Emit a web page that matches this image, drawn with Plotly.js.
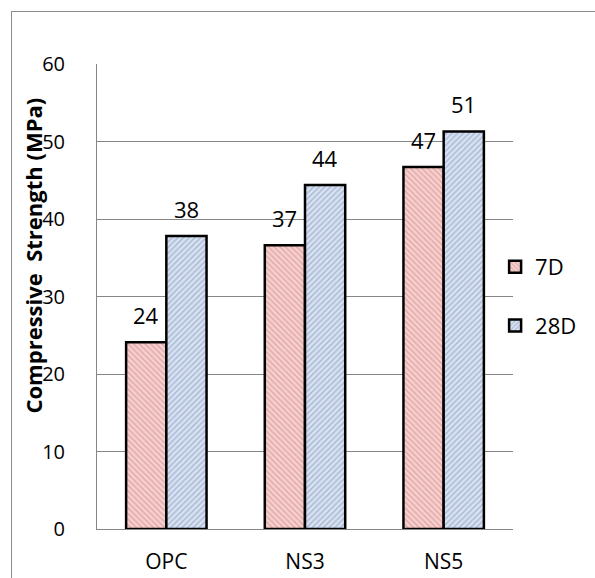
<!DOCTYPE html>
<html><head><meta charset="utf-8">
<script src="https://cdn.plot.ly/plotly-3.0.1.min.js"></script>
<style>
body{margin:0;padding:0;background:#fff;}
#wrap{position:relative;width:595px;height:578px;}
#frame{position:absolute;left:11px;top:11px;width:600px;height:600px;border-left:1px solid #8c8c8c;border-top:1px solid #8c8c8c;pointer-events:none;}
#chart{position:absolute;left:0;top:0;width:595px;height:578px;}
</style>
</head><body>
<div id="wrap"><div id="chart"></div><div id="frame"></div></div>
<script>
const categories = ["OPC", "NS3", "NS5"];
const series7D = [24.1, 36.6, 46.7];
const series28D = [37.8, 44.4, 51.3];
const seriesNames = ["7D", "28D"];
const yTicks = [0, 10, 20, 30, 40, 50, 60];
const yTitle = "Compressive  Strength (MPa)";

const fontFam = "Open Sans, Liberation Sans, sans-serif";
const groupWidth = 0.58;
const seriesList = [series7D, series28D];

const traces = [
  {
    type: "bar", name: seriesNames[0], x: categories, y: series7D,
    legendgroup: "a",
    marker: {color: "#f2c6c5", line: {color: "#000", width: 2.5},
      pattern: {shape: "\\", fillmode: "replace", bgcolor: "#f5d0cf", fgcolor: "#e0a3a1", size: 4, solidity: 0.3}}
  },
  {
    type: "bar", name: seriesNames[1], x: categories, y: series28D,
    legendgroup: "b",
    marker: {color: "#cdd8ea", line: {color: "#000", width: 2.5},
      pattern: {shape: "/", fillmode: "replace", bgcolor: "#d8e1f0", fgcolor: "#a2b4d2", size: 4, solidity: 0.3}}
  }
];

// value labels placed above each bar through the axes
const annotations = [];
seriesList.forEach((vals, j) => {
  vals.forEach((v, i) => {
    annotations.push({
      xref: "x", yref: "y",
      x: i + (j - 0.5) * groupWidth / 2, y: v,
      text: String(Math.round(v)), showarrow: false,
      yanchor: "middle", yshift: 27,
      font: {size: 22, color: "#000", family: fontFam}
    });
  });
});
annotations.push({
  xref: "paper", yref: "paper", x: -0.154, y: 0.588,
  text: "<b>" + yTitle + "</b>", showarrow: false, textangle: -90,
  xanchor: "center", yanchor: "middle",
  font: {size: 22, color: "#000", family: fontFam}
});

const layout = {
  width: 595, height: 578,
  margin: {l: 97, r: 82, t: 64, b: 49},
  paper_bgcolor: "#fff", plot_bgcolor: "#fff",
  font: {family: fontFam, size: 20, color: "#000"},
  barmode: "group", bargap: 1 - groupWidth, bargroupgap: 0,
  showlegend: true,
  legend: {x: 0.957, xanchor: "left", y: 0.5, yanchor: "middle", tracegroupgap: 27,
    font: {size: 22, family: fontFam}, itemwidth: 30, bgcolor: "rgba(0,0,0,0)"},
  xaxis: {showline: true, linecolor: "#868686", linewidth: 1, ticks: "", showgrid: false,
    tickfont: {size: 21}, ticklabelstandoff: 14},
  yaxis: {range: [0, 60], tickvals: yTicks, showgrid: true, gridcolor: "#868686", gridwidth: 1,
    showline: true, linecolor: "#868686", linewidth: 1, ticks: "", zeroline: false,
    tickfont: {size: 20}, ticklabelstandoff: 27},
  annotations: annotations
};

Plotly.newPlot("chart", traces, layout, {displayModeBar: false, staticPlot: true});
</script>
</body></html>
